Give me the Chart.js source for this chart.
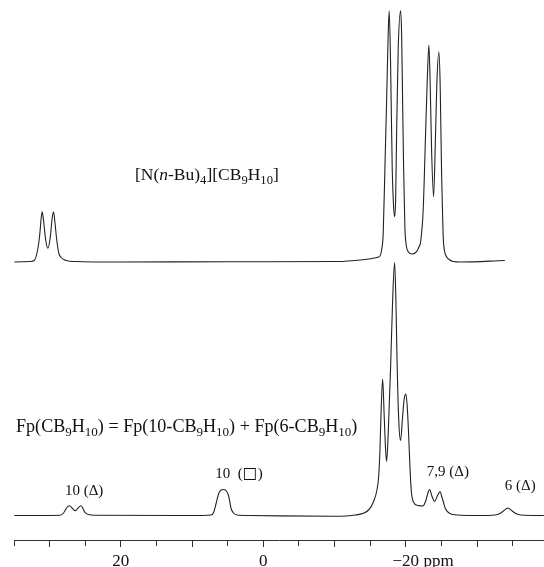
<!DOCTYPE html>
<html><head><meta charset="utf-8">
<script src="https://cdn.jsdelivr.net/npm/chart.js@4"></script>
<style>html,body{margin:0;padding:0;background:#fff}#wrap{width:544px;height:567px;position:relative}</style>
</head><body><div id="wrap"><canvas id="c"></canvas></div>
<script>
// ---- data (chemical shift in ppm, intensity in arbitrary units) ----
const UPPER_PPM = [34.96,32.72,32.16,31.74,31.42,31.18,31.04,30.83,30.55,30.24,29.92,29.64,29.45,29.26,29.00,28.72,28.30,27.67,26.41,20.10,5.0,
  -10.76,-12.86,-14.26,-15.25,-15.95,-16.37,-16.65,-16.83,-17.07,-17.31,-17.53,-17.67,-17.87,-18.09,-18.29,-18.43,-18.57,-18.71,-18.93,-19.27,
  -19.41,-19.55,-19.69,-19.87,-20.08,-20.34,-20.90,-21.51,-21.84,-22.08,-22.44,-22.78,-23.00,-23.24,-23.42,-23.62,-23.90,-24.12,-24.36,-24.64,
  -24.82,-25.02,-25.16,-25.25,-25.41,-25.72,-26.18,-26.65,-27.59,-33.90];
const UPPER_INT = [0,0.5,1.5,10,25,44,50.3,40,22,13.7,24,44,50.3,40,22,9,4,1.5,0.5,0,0.3,
  0.5,1.5,2.5,3.5,4.5,6,14,28.7,95,162,229,251.3,195,95,55,45.3,62,129,212,251.3,
  229,162,95,35,16,10.3,8,10.3,15,20.3,52,129,179,217,179,112,65.3,112,179,210.3,
  179,90,48.7,25,12,5.3,2,0.5,0,1.5];
const LOWER_PPM = [34.96,28.5,28.05,27.58,27.24,26.42,25.61,25.01,24.55,23.6,10,7.34,6.98,6.63,6.26,5.93,5.61,5.23,4.85,4.53,4.18,3.69,1.87,
  -10,-12.90,-14.78,-15.48,-15.95,-16.19,-16.37,-16.51,-16.75,-16.97,-17.17,-17.31,-17.53,-17.87,-18.15,-18.43,-18.61,-18.79,-19.03,-19.27,
  -19.55,-19.78,-20.01,-20.20,-20.39,-20.58,-20.76,-21.04,-21.70,-22.40,-22.82,-23.10,-23.34,-23.66,-24.04,-24.43,-24.82,-25.06,-25.34,-25.55,
  -26.18,-27.31,-30.39,-32.50,-33.20,-33.69,-34.32,-34.95,-35.44,-36.14,-39.37];
const LOWER_INT = [0,0.3,2.5,8,9.8,4.8,9.8,2.8,1,0.3,0,0.5,3,12,22,25.5,26,25,19,7,2.5,0.5,0,
  -0.8,0.5,5.5,14,25.5,39,65,99,136.5,99,65,54,82,149,215,253,215,149,92,75,
  99,117,121.5,109,82,49,25.5,14,10,9.5,15,22.5,26,19.5,14,19.5,24,18.5,12,7,
  2,0.5,0,0.5,2,4.5,7.5,4.5,2,0.5,0];
const X_MIN = -39.4, X_MAX = 35;
const LABELED_TICKS = [20, 0, -20];
const TICK_TEXT = ['20', '0', '\u221220'];
const AXIS_UNIT = 'ppm';
const PEAK_LABELS = [
  [{t:'10 (\u0394)'}],
  [{t:'10  ('},{t:'\u25A1',sym:1},{t:')'}],
  [{t:'7,9 (\u0394)'}],
  [{t:'6 (\u0394)'}]
];
const PEAK_LABEL_PPM = [25.15, 3.41, -25.9, -36.07];

// ---- layout / style ----
const AREA_BOTTOM = 540, UPPER_BASE = 262, LOWER_BASE = 515.5;
const PEAK_LABEL_Y = [495, 478, 476, 490];
const FONT = '"Liberation Serif", "Times New Roman", serif';
const UPPER_TITLE = [{t:'[N('},{t:'n',it:1},{t:'-Bu)'},{t:'4',sub:1},{t:'][CB'},{t:'9',sub:1},{t:'H'},{t:'10',sub:1},{t:']'}];
const LOWER_TITLE = [{t:'Fp(CB'},{t:'9',sub:1},{t:'H'},{t:'10',sub:1},{t:') = Fp(10-CB'},{t:'9',sub:1},{t:'H'},{t:'10',sub:1},
  {t:') + Fp(6-CB'},{t:'9',sub:1},{t:'H'},{t:'10',sub:1},{t:')'}];

function segFont(s, size) {
  if (s.sym) return 'bold ' + (size * 1.05) + 'px "DejaVu Sans", sans-serif';
  const fs = s.sub ? size * 0.72 : size;
  return (s.it ? 'italic ' : '') + fs + 'px ' + FONT;
}
function richWidth(ctx, segs, size) {
  let w = 0;
  for (const s of segs) { ctx.font = segFont(s, size); w += ctx.measureText(s.t).width; }
  return w;
}
function drawRich(ctx, segs, x, y, size) {
  let cx = x;
  for (const s of segs) {
    ctx.font = segFont(s, size);
    ctx.fillText(s.t, cx, y + (s.sub ? size * 0.24 : 0));
    cx += ctx.measureText(s.t).width;
  }
}

const textPlugin = {
  id: 'texts',
  afterDraw(chart) {
    const ctx = chart.ctx, xs = chart.scales.x;
    ctx.save();
    ctx.fillStyle = '#111';
    ctx.textBaseline = 'alphabetic';
    ctx.textAlign = 'left';
    drawRich(ctx, UPPER_TITLE, 135, 180, 17.5);
    drawRich(ctx, LOWER_TITLE, 16, 432, 18.1);
    PEAK_LABELS.forEach((segs, i) => {
      const w = richWidth(ctx, segs, 15);
      drawRich(ctx, segs, xs.getPixelForValue(PEAK_LABEL_PPM[i]) - w / 2, PEAK_LABEL_Y[i], 15);
    });
    // unit after the -20 tick label
    const items = xs.getLabelItems();
    const it = items.find(d => d.label === TICK_TEXT[2]);
    if (it) {
      ctx.font = '17px ' + FONT;
      const w = ctx.measureText(TICK_TEXT[2]).width;
      ctx.textBaseline = it.options.textBaseline;
      ctx.fillText(AXIS_UNIT, it.options.translation[0] + w / 2 + 4.5, it.options.translation[1] + it.textOffset);
    }
    ctx.restore();
  }
};

const ds = (px, iv, axis) => ({
  data: px.map((x, i) => ({x, y: iv[i]})),
  yAxisID: axis, showLine: true, pointRadius: 0, borderColor: '#222', borderWidth: 1.1,
  cubicInterpolationMode: 'monotone', fill: false, clip: false
});

new Chart(document.getElementById('c'), {
  type: 'scatter',
  data: { datasets: [ds(UPPER_PPM, UPPER_INT, 'y1'), ds(LOWER_PPM, LOWER_INT, 'y2')] },
  options: {
    responsive: true, maintainAspectRatio: false, animation: false, devicePixelRatio: 1,
    layout: { padding: { left: 14, right: 0, top: 0, bottom: 0 } },
    plugins: { legend: { display: false }, tooltip: { enabled: false } },
    scales: {
      x: {
        type: 'linear', reverse: true, min: X_MIN, max: X_MAX, position: 'bottom',
        afterFit: s => { s.height = 567 - AREA_BOTTOM; },
        border: { display: true, color: '#333', width: 1 },
        grid: { drawOnChartArea: false, drawTicks: true, tickLength: 7, tickColor: '#333', tickWidth: 1,
          tickBorderDash: c => (c.tick && Math.abs(c.tick.value % 10) < 1e-6) ? [] : [5, 20] },
        ticks: { stepSize: 5, includeBounds: false, autoSkip: false, maxRotation: 0, padding: 4, color: '#111',
          font: { family: FONT, size: 17 },
          callback: v => { const k = LABELED_TICKS.indexOf(v); return k >= 0 ? TICK_TEXT[k] : ''; } }
      },
      y1: { display: false, min: UPPER_BASE - AREA_BOTTOM, max: UPPER_BASE },
      y2: { display: false, min: LOWER_BASE - AREA_BOTTOM, max: LOWER_BASE }
    }
  },
  plugins: [textPlugin]
});
</script></body></html>
